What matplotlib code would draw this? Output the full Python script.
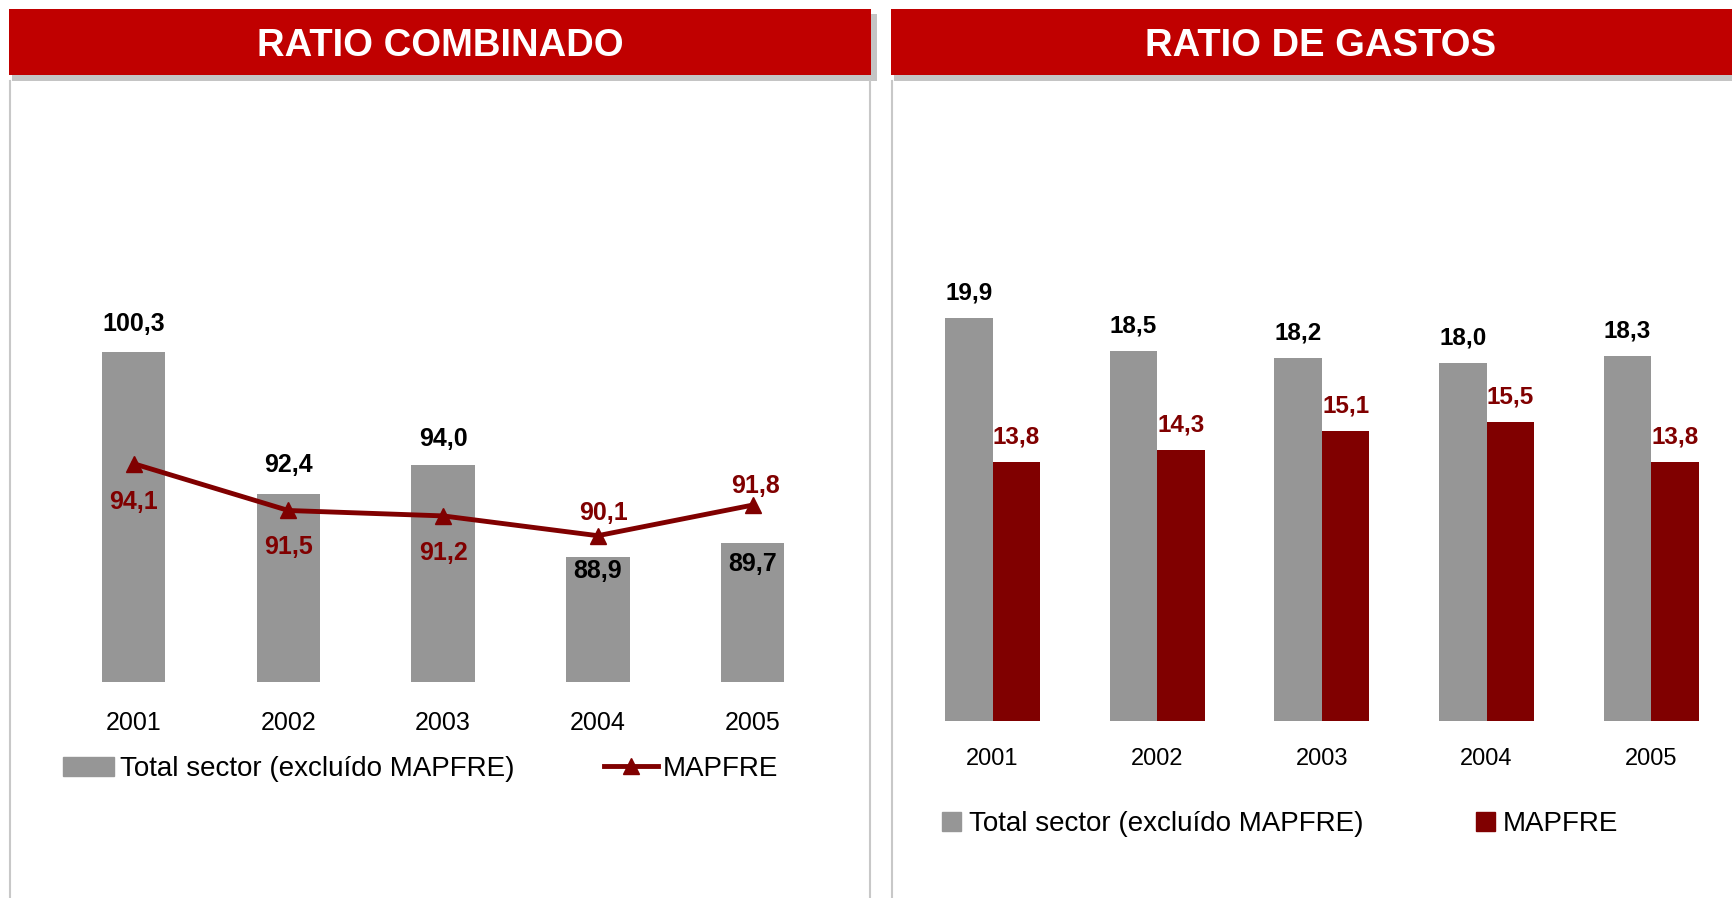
import matplotlib
matplotlib.use('Agg')
import matplotlib.pyplot as plt
from matplotlib.patches import Rectangle, Patch
from matplotlib.lines import Line2D
import numpy as np

plt.rcParams['font.family'] = ['Liberation Sans', 'DejaVu Sans']

years = ['2001', '2002', '2003', '2004', '2005']
combinado_sector = [100.3, 92.4, 94.0, 88.9, 89.7]
combinado_mapfre = [94.1, 91.5, 91.2, 90.1, 91.8]
gastos_sector = [19.9, 18.5, 18.2, 18.0, 18.3]
gastos_mapfre = [13.8, 14.3, 15.1, 15.5, 13.8]

# label placement (pixels, + = up)
sector_lbl_dy = [28, 29, 27, -14, -21]
mapfre_lbl_dy = [-38, -37, -37, 23, 19]
mapfre_lbl_dx = [0, 0, 0, 6, 3]

GREY = '#969696'
MAROON = '#800000'
RED = '#C00000'

W, H = 1733, 898
fig = plt.figure(figsize=(W / 100, H / 100), dpi=100)


def add_ax(x0, y0, x1, y1):
    return fig.add_axes([x0 / W, 1 - y1 / H, (x1 - x0) / W, (y1 - y0) / H])


def rect(x0, y0, x1, y1, color):
    fig.add_artist(Rectangle((x0 / W, 1 - y1 / H), (x1 - x0) / W, (y1 - y0) / H,
                             transform=fig.transFigure, color=color, lw=0))


def vline(x, y0, y1):
    fig.add_artist(Line2D([x / W, x / W], [1 - y0 / H, 1 - y1 / H], transform=fig.transFigure,
                          color='#C8C8C8', lw=1.5))


def fmt(v):
    return f'{v:.1f}'.replace('.', ',')


# headers and panel frames
rect(12, 14, 877, 81, '#C4C4C4')
rect(9, 9, 871, 75, RED)
rect(894, 14, 1733, 81, '#C4C4C4')
rect(891, 9, 1733, 75, RED)
vline(10.5, 81, 898)
vline(870, 81, 898)
vline(892, 81, 898)
fig.text(440 / W, 1 - 46 / H, 'RATIO COMBINADO', color='white', fontsize=27.5,
         fontweight='bold', ha='center', va='center')
fig.text(1321 / W, 1 - 46 / H, 'RATIO DE GASTOS', color='white', fontsize=27.5,
         fontweight='bold', ha='center', va='center')

# ---- Ratio combinado ----
x = np.arange(len(years))
ax1 = add_ax(56.3, 100, 829.9, 681.5)
ax1.set_xlim(-0.5, 4.5)
ax1.set_ylim(82, 82 + 581.5 / 18.0)
ax1.bar(x, combinado_sector, width=0.41, color=GREY, zorder=1)
ax1.plot(x, combinado_mapfre, color=MAROON, lw=3.5, marker='^', markersize=11, zorder=3)
for i in range(len(years)):
    ax1.annotate(fmt(combinado_sector[i]), (x[i], combinado_sector[i]),
                 xytext=(0, sector_lbl_dy[i]), textcoords='offset pixels',
                 ha='center', va='center', fontsize=18, fontweight='bold', color='black', zorder=4)
    ax1.annotate(fmt(combinado_mapfre[i]), (x[i], combinado_mapfre[i]),
                 xytext=(mapfre_lbl_dx[i], mapfre_lbl_dy[i]), textcoords='offset pixels',
                 ha='center', va='center', fontsize=18, fontweight='bold', color=MAROON, zorder=4)
ax1.set_xticks(x)
ax1.set_xticklabels(years, fontsize=18)
ax1.tick_params(axis='x', length=0, pad=21)
ax1.set_yticks([])
for s in ax1.spines.values():
    s.set_visible(False)

fig.legend([Patch(color=GREY)], ['Total sector (excluído MAPFRE)'],
           loc='center left', bbox_to_anchor=(63 / W, 1 - 769 / H),
           frameon=False, fontsize=20, borderpad=0, borderaxespad=0,
           handlelength=1.85, handleheight=0.66, handletextpad=0.2)
fig.legend([Line2D([], [], color=MAROON, lw=3.5, marker='^', markersize=11)], ['MAPFRE'],
           loc='center left', bbox_to_anchor=(604 / W, 1 - 769 / H),
           frameon=False, fontsize=20, borderpad=0, borderaxespad=0,
           handlelength=1.95, handletextpad=0.15)

# ---- Ratio de gastos ----
ax2 = add_ax(910.2, 100, 1733.6, 720.5)
ax2.set_xlim(-0.5, 4.5)
ax2.set_ylim(2.8, 2.8 + 620.5 / 23.53)
bw = 0.288
ax2.bar(x - bw / 2, gastos_sector, width=bw, color=GREY)
ax2.bar(x + bw / 2, gastos_mapfre, width=bw, color=MAROON)
for i in range(len(years)):
    ax2.annotate(fmt(gastos_sector[i]), (x[i] - bw / 2, gastos_sector[i]),
                 xytext=(0, 25), textcoords='offset pixels',
                 ha='center', va='center', fontsize=17.5, fontweight='bold', color='black')
    ax2.annotate(fmt(gastos_mapfre[i]), (x[i] + bw / 2, gastos_mapfre[i]),
                 xytext=(0, 25), textcoords='offset pixels',
                 ha='center', va='center', fontsize=17.5, fontweight='bold', color=MAROON)
ax2.set_xticks(x)
ax2.set_xticklabels(years, fontsize=17)
ax2.tick_params(axis='x', length=0, pad=20)
ax2.set_yticks([])
for s in ax2.spines.values():
    s.set_visible(False)

fig.legend([Patch(color=GREY)], ['Total sector (excluído MAPFRE)'],
           loc='center left', bbox_to_anchor=(942 / W, 1 - 824 / H),
           frameon=False, fontsize=20, borderpad=0, borderaxespad=0,
           handlelength=0.68, handleheight=0.68, handletextpad=0.28)
fig.legend([Patch(color=MAROON)], ['MAPFRE'],
           loc='center left', bbox_to_anchor=(1476 / W, 1 - 824 / H),
           frameon=False, fontsize=20, borderpad=0, borderaxespad=0,
           handlelength=0.68, handleheight=0.68, handletextpad=0.28)

fig.savefig('out.png', dpi=100)
